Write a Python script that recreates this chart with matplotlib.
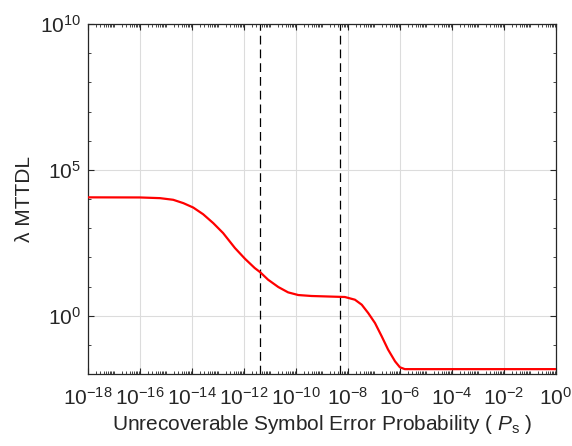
import matplotlib
matplotlib.use('Agg')
import matplotlib.pyplot as plt
from matplotlib.ticker import FixedLocator, LogLocator, NullFormatter, LogFormatterSciNotation

plt.rcParams['font.family'] = ['Liberation Sans', 'DejaVu Sans']
plt.rcParams['mathtext.fontset'] = 'custom'
plt.rcParams['mathtext.rm'] = 'Liberation Sans'
plt.rcParams['mathtext.it'] = 'Liberation Sans:italic'
plt.rcParams['mathtext.default'] = 'regular'
plt.rcParams['axes.unicode_minus'] = False

# symbol error probability vs normalised MTTDL
ps = [1e-18, 1e-16, 5.9e-16, 1.9e-15, 4.7e-15, 1.12e-14, 2.7e-14, 6.6e-14,
      1.58e-13, 4.5e-13, 1.10e-12, 2.6e-12, 4.2e-12, 8.5e-12, 2.1e-11,
      5.0e-11, 1.23e-10, 4.0e-10, 3.2e-9, 7.6e-9, 1.86e-8, 3.4e-8, 6.0e-8,
      1.10e-7, 2.0e-7, 3.5e-7, 6.5e-7, 1.0e-6, 1.55e-6, 1.0]
mttdl = [1.14e4, 1.13e4, 1.07e4, 9.4e3, 7.2e3, 5.1e3, 3.0e3, 1.49e3,
         680, 209, 89, 43, 31, 17.1, 9.6,
         6.3, 5.1, 4.73, 4.47, 4.37, 3.53, 2.38, 1.24,
         0.56, 0.195, 0.069, 0.0272, 0.017, 0.0147, 0.0147]

# reference probabilities marked with dashed lines
ps_marks = [4.2e-12, 5.0e-9]

txt = '#262626'

fig = plt.figure(figsize=(5.72, 4.46), dpi=100)
ax = fig.add_axes([0.1538, 0.1614, 0.818, 0.7848])

ax.plot(ps, mttdl, color='red', lw=1.6, zorder=3,
        solid_joinstyle='round', solid_capstyle='round')
for p in ps_marks:
    ax.axvline(p, color='black', lw=0.9, ls=(0, (7, 4)), zorder=2)

ax.set_xscale('log')
ax.set_yscale('log')
ax.set_xlim(1e-18, 1e0)
ax.set_ylim(1e-2, 1e10)

ax.xaxis.set_major_locator(FixedLocator([10.0**e for e in range(-18, 1, 2)]))
ax.xaxis.set_minor_locator(LogLocator(base=10, subs=range(1, 10), numticks=40))
ax.yaxis.set_major_locator(FixedLocator([1e0, 1e5, 1e10]))
ax.yaxis.set_minor_locator(FixedLocator([10.0**e for e in range(-2, 11)]))
ax.xaxis.set_major_formatter(LogFormatterSciNotation())
ax.yaxis.set_major_formatter(LogFormatterSciNotation())
ax.xaxis.set_minor_formatter(NullFormatter())
ax.yaxis.set_minor_formatter(NullFormatter())

ax.grid(True, which='major', color='#dcdcdc', lw=0.8)
ax.set_axisbelow(True)
ax.tick_params(which='both', direction='in', top=True, right=True,
               colors=txt, labelsize=15)
ax.tick_params(which='major', length=4, width=0.8)
ax.tick_params(which='minor', length=2.2, width=0.6)
ax.tick_params(axis='x', pad=9)
ax.tick_params(axis='y', pad=5)
for s in ax.spines.values():
    s.set_color(txt)
    s.set_linewidth(0.9)

ax.set_xlabel('Unrecoverable Symbol Error Probability ( $\\mathit{P}_{\\mathrm{s}}$ )',
              fontsize=15, color=txt, labelpad=3)
ax.set_ylabel('λ MTTDL', fontsize=15, color=txt, labelpad=4)

fig.savefig('out.png', dpi=100)
